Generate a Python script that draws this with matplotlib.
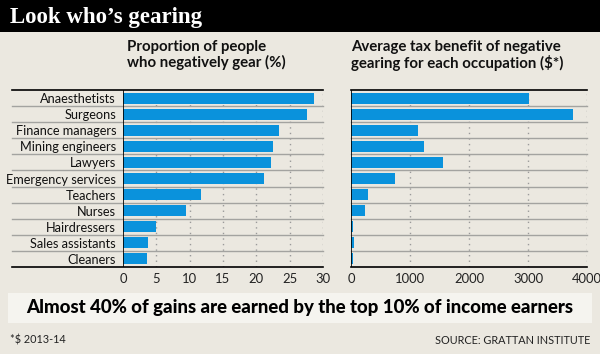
"""
Look who's gearing - negative gearing by occupation
"""

import matplotlib
matplotlib.use('Agg')
import matplotlib.pyplot as plt
from matplotlib.patches import Rectangle

# Data
occupations = ["Anaesthetists", "Surgeons", "Finance managers", "Mining engineers",
               "Lawyers", "Emergency services", "Teachers", "Nurses",
               "Hairdressers", "Sales assistants", "Cleaners"]
share_pct = [28.65, 27.6, 23.4, 22.55, 22.15, 21.15, 11.7, 9.5, 4.95, 3.75, 3.6]
tax_benefit = [3020, 3770, 1135, 1230, 1560, 740, 280, 230, 40, 50, 40]

left_ticks = [0, 5, 10, 15, 20, 25, 30]
right_ticks = [0, 1000, 2000, 3000, 4000]

BG = '#ebe8e0'
BLUE = '#0a92dc'
W, H = 600, 354
SANS = ['Lato', 'DejaVu Sans']


def px(x0, y0, x1, y1):
    """Pixel box (top-left origin) to figure rect."""
    return [x0 / W, 1 - y1 / H, (x1 - x0) / W, (y1 - y0) / H]


def style_panel(ax, values, ticks, label_left):
    n = len(values)
    ax.set_facecolor(BG)
    ax.barh(range(n), values, height=0.68, color=BLUE, zorder=3)
    ax.set_ylim(n - 0.5, -0.5)
    ax.set_xlim(ticks[0], ticks[-1])
    for s in ax.spines.values():
        s.set_visible(False)
    ax.axvline(0, color='black', lw=1.2, zorder=4)
    # dotted vertical gridlines
    for t in ticks[1:]:
        ax.axvline(t, color='#9a9a9a', lw=1.0, ls=(0, (1, 3)), zorder=1)
    # row separators, stretching into the label area
    ytr = ax.get_yaxis_transform()
    for k in range(n + 1):
        y = k - 0.5
        edge = k in (0, n)
        ax.plot([label_left, 1], [y, y], transform=ytr, clip_on=False,
                color='black' if edge else '#a3a3a0', lw=1.2 if edge else 1.0,
                zorder=2)
    ax.set_xticks(ticks)
    ax.set_xticklabels([str(t) for t in ticks], fontsize=9.4, color='#222222',
                       family=SANS)
    ax.tick_params(axis='x', length=0, pad=4)
    ax.tick_params(axis='y', length=0, pad=5)


fig = plt.figure(figsize=(6, 3.54), dpi=100)
fig.patch.set_facecolor(BG)

# title bar
fig.add_artist(Rectangle((0, 1 - 32 / H), 1, 32 / H, transform=fig.transFigure,
                         facecolor='black', edgecolor='none'))
fig.text(10 / W, 1 - 17 / H, "Look who\u2019s gearing", color='white',
         fontsize=16.5, fontweight='bold', family=['Liberation Serif', 'DejaVu Serif'],
         ha='left', va='center')

# left panel
ax1 = fig.add_axes(px(123, 90, 323, 267))
style_panel(ax1, share_pct, left_ticks, (12 - 123) / 200)
ax1.set_yticks(range(len(occupations)))
ax1.set_yticklabels(occupations, fontsize=9.2, color='#111111', family=SANS)

# right panel
ax2 = fig.add_axes(px(351, 90, 587, 267))
style_panel(ax2, tax_benefit, right_ticks, 0)
ax2.set_yticks([])

# panel headings
for x, txt in [(127, "Proportion of people\nwho negatively gear (%)"),
               (351, "Average tax benefit of negative\ngearing for each occupation ($*)")]:
    fig.text(x / W, 1 - 40 / H, txt, fontsize=10.8, fontweight='bold',
             ha='left', va='top', linespacing=1.1, color='#111111', family=SANS)

# bottom banner
fig.add_artist(Rectangle((8 / W, 1 - 323 / H), 584 / W, 30 / H,
                         transform=fig.transFigure, facecolor='#f5f4ef',
                         edgecolor='none'))
fig.text(0.5, 1 - 308 / H, "Almost 40% of gains are earned by the top 10% of income earners",
         fontsize=13.4, fontweight='black', family=SANS,
         ha='center', va='center', color='black')

# footer
fig.text(10 / W, 1 - 340 / H, "*$ 2013-14", fontsize=7.8, ha='left', va='center',
         color='#222222', family=SANS)
fig.text(590 / W, 1 - 340 / H, "SOURCE: GRATTAN INSTITUTE", fontsize=7.8,
         ha='right', va='center', color='#222222', family=SANS)

fig.savefig('out.png', dpi=100, facecolor=BG)
